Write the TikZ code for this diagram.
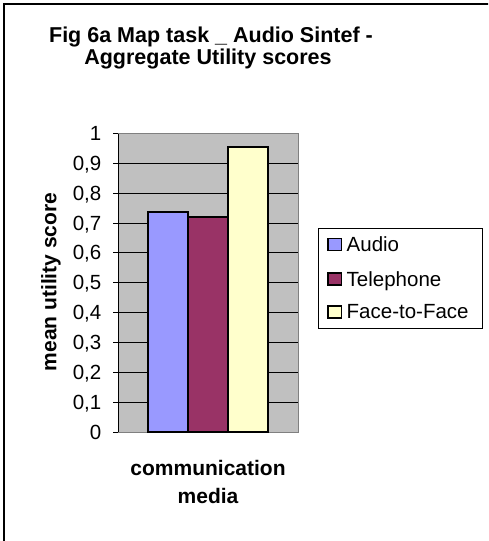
\documentclass[tikz,border=0pt]{standalone}
\usepackage{fontspec}
\setmainfont{Liberation Sans}
\definecolor{plotgray}{HTML}{C0C0C0}
\definecolor{framegray}{HTML}{808080}
\definecolor{audiocol}{HTML}{9999FF}
\definecolor{telcol}{HTML}{993366}
\definecolor{facecol}{HTML}{FFFFCC}
\tikzset{
  titletext/.style={font=\fontsize{21.5}{23}\selectfont\bfseries, inner sep=0pt},
  axlabel/.style={font=\fontsize{21}{23}\selectfont\bfseries, inner sep=0pt},
  ticklabel/.style={font=\fontsize{20.5}{22}\selectfont, inner sep=0pt, anchor=base east},
  legtext/.style={font=\fontsize{20.5}{22}\selectfont, inner sep=0pt, anchor=base west},
  barbox/.style={draw=black, line width=2pt},
  legbox/.style={draw=black, line width=1.6pt},
  grid line/.style={draw=black, line width=1pt},
}
\begin{document}
\begin{tikzpicture}[x=1pt,y=-1pt]
\useasboundingbox (0,0) rectangle (488,541);
\clip (0,0) rectangle (488,541);
\fill[white] (0,0) rectangle (488,541);
% outer frame (right and bottom edges lie outside the picture)
\draw[black, line width=1.2pt] (4,4) rectangle (520,580);
% title
\node[titletext, anchor=base] (t1) at (211,42) {Fig 6a Map task \_ Audio Sintef -};
\node[titletext, anchor=base] (t2) at (208,64.5) {Aggregate Utility scores};
% plot area
\fill[plotgray] (118,133.5) rectangle (298,432);
\draw[framegray, line width=1pt] (118,133.5) -- (298,133.5) -- (298,432) -- (118,432);
% gridlines
\foreach \v in {1,...,9} {
  \draw[grid line] (118,{432-\v*29.85}) -- (298,{432-\v*29.85});
}
% bars
\draw[barbox, fill=audiocol] (148,432) rectangle (188,{432-0.738*298.5});
\draw[barbox, fill=telcol] (188,432) rectangle (228,{432-0.721*298.5});
\draw[barbox, fill=facecol] (228,432) rectangle (268,{432-0.954*298.5});
% axis
\draw[black, line width=1pt] (118,133.5) -- (118,432);
\foreach \v/\lab in {0/0,1/{0,1},2/{0,2},3/{0,3},4/{0,4},5/{0,5},6/{0,6},7/{0,7},8/{0,8},9/{0,9},10/1} {
  \draw[black, line width=1pt] (113,{432-\v*29.85}) -- (118,{432-\v*29.85});
  \node[ticklabel] (tick\v) at (101.5,{432-\v*29.85+7}) {\lab};
}
% axis labels
\node[axlabel, rotate=90] (ylab) at (51,282) {mean utility score};
\node[axlabel, anchor=base] (xlab1) at (208,475) {communication};
\node[axlabel, anchor=base] (xlab2) at (208,503.3) {media};
% legend
\draw[black, line width=1pt] (318.5,228) rectangle (482.7,328.3);
\draw[legbox, fill=audiocol] (328,238.5) rectangle (341.5,250.5);
\node[legtext] (l1) at (346.5,251.5) {Audio};
\draw[legbox, fill=telcol] (328,273) rectangle (341.5,285);
\node[legtext] (l2) at (346.5,286) {Telephone};
\draw[legbox, fill=facecol] (328,306) rectangle (341.5,318);
\node[legtext] (l3) at (346.5,318.5) {Face-to-Face};
\end{tikzpicture}
\end{document}
